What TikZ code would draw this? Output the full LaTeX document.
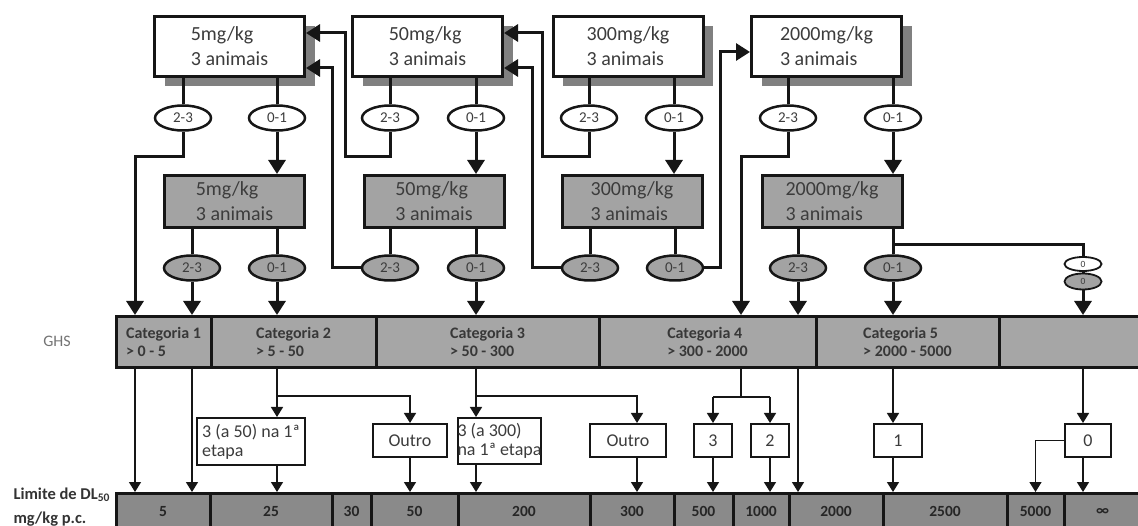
\documentclass[tikz,border=0pt]{standalone}
\usepackage{fontspec}
\setmainfont{Carlito}
\usetikzlibrary{arrows.meta,shadows,shapes.geometric}
\definecolor{boxgray}{RGB}{163,163,163}
\definecolor{bargray}{RGB}{166,166,166}
\definecolor{lowgray}{RGB}{138,138,138}
\definecolor{shadowgray}{RGB}{128,128,128}
\definecolor{txt}{RGB}{60,60,60}
\definecolor{linec}{RGB}{22,22,22}
\begin{document}
\begin{tikzpicture}[x=1pt,y=-1pt,
  basebox/.style={draw=linec, line width=3pt, inner sep=0pt, align=left, text=txt, font=\fontsize{20}{25}\selectfont},
  topbox/.style={basebox, fill=white, minimum width=150pt, minimum height=60pt,
    drop shadow={shadow xshift=10pt, shadow yshift=-10pt, fill=shadowgray, opacity=1}},
  graybox/.style={basebox, fill=boxgray, minimum width=140pt, minimum height=52pt},
  wellipse/.style={ellipse, draw=linec, line width=2.5pt, fill=white, minimum width=56pt, minimum height=25pt, inner sep=0pt, text=txt, font=\fontsize{15}{15}\selectfont},
  gellipse/.style={wellipse, fill=boxgray},
  smallell/.style={ellipse, draw=linec, line width=1.8pt, minimum width=37pt, minimum height=14pt, inner sep=0pt, text=txt, font=\fontsize{9.5}{9.5}\selectfont},
  cell/.style={draw=linec, line width=3pt, fill=bargray, minimum height=51pt, inner sep=0pt, align=left, text=black!78, font=\bfseries\fontsize{16}{18}\selectfont},
  lowcell/.style={draw=linec, line width=3pt, fill=lowgray, minimum height=36.5pt, inner sep=0pt, text=black!85, font=\bfseries\fontsize{15.5}{18}\selectfont},
  midbox/.style={draw=linec, line width=2pt, fill=white, minimum height=33pt, inner sep=0pt, align=left, text=txt, font=\fontsize{18}{19}\selectfont},
  thk/.style={line width=3pt, draw=linec},
  thka/.style={thk, -{Triangle[width=17pt,length=14pt]}},
  thn/.style={line width=1.5pt, draw=linec},
  thna/.style={thn, -{Triangle[width=12pt,length=10pt]}}]
\useasboundingbox (0,0) rectangle (1138,526);

% top row
\node[topbox] (t1) at (229.5,46.5) {5mg/kg\\3 animais};
\node[topbox] (t2) at (427.5,46.5) {50mg/kg\\3 animais};
\node[topbox] (t3) at (628,46.5) {300mg/kg\\3 animais};
\node[topbox] (t4) at (826.5,46.5) {2000mg/kg\\3 animais};

% top ellipses
\node[wellipse] (e1a) at (183,118) {2-3};
\node[wellipse] (e1b) at (277,118) {0-1};
\node[wellipse] (e2a) at (390,118) {2-3};
\node[wellipse] (e2b) at (476,118) {0-1};
\node[wellipse] (e3a) at (589,118) {2-3};
\node[wellipse] (e3b) at (674,118) {0-1};
\node[wellipse] (e4a) at (788,118) {2-3};
\node[wellipse] (e4b) at (893,118) {0-1};

% gray row
\node[graybox] (g1) at (234.5,201.5) {5mg/kg\\3 animais};
\node[graybox] (g2) at (434,201.5) {50mg/kg\\3 animais};
\node[graybox] (g3) at (632,201.5) {300mg/kg\\3 animais};
\node[graybox] (g4) at (832,201.5) {2000mg/kg\\3 animais};

% gray ellipses
\node[gellipse] (f1a) at (192,268) {2-3};
\node[gellipse] (f1b) at (277,268) {0-1};
\node[gellipse] (f2a) at (390,268) {2-3};
\node[gellipse] (f2b) at (476,268) {0-1};
\node[gellipse] (f3a) at (590,268) {2-3};
\node[gellipse] (f3b) at (675,268) {0-1};
\node[gellipse] (f4a) at (798,268) {2-3};
\node[gellipse] (f4b) at (893,268) {0-1};

\node[smallell, fill=white] (z1) at (1083,264) {0};
\node[smallell, fill=boxgray, minimum height=16pt] (z2) at (1083,281.5) {0};

% GHS bar
\node[cell, minimum width=95pt] (c1) at (163.5,342) {Categoria 1\\> 0 - 5};
\node[cell, minimum width=165pt] (c2) at (293.5,342) {Categoria 2\\> 5 - 50};
\node[cell, minimum width=223pt] (c3) at (487.5,342) {Categoria 3\\> 50 - 300};
\node[cell, minimum width=217pt] (c4) at (707.5,342) {Categoria 4\\> 300 - 2000};
\node[cell, minimum width=183pt] (c5) at (907.5,342) {Categoria 5\\> 2000 - 5000};
\node[cell, minimum width=142pt] (c6) at (1070,342) {};

\node[font=\fontsize{16}{16}\selectfont, text=black!55] (ghs) at (57,341) {GHS};

% middle boxes
\node[midbox, minimum width=108pt, minimum height=47pt] (m1) at (251,441.5) {3 (a 50) na 1ª\\etapa};
\node[midbox, minimum width=74pt] (m2) at (410,440.5) {Outro};
\node[midbox, minimum width=79pt, minimum height=46pt] (m3) at (499.5,441) {3 (a 300)\\na 1ª etapa};
\node[midbox, minimum width=76pt] (m4) at (628,440.5) {Outro};
\node[midbox, minimum width=38pt] (m5) at (713,440.5) {3};
\node[midbox, minimum width=38pt] (m6) at (770,440.5) {2};
\node[midbox, minimum width=48pt] (m7) at (898,440.5) {1};
\node[midbox, minimum width=46pt] (m8) at (1088,440.5) {0};

% bottom bar
\node[lowcell, minimum width=94pt] (b1) at (163,511.75) {5};
\node[lowcell, minimum width=122pt] (b2) at (271,511.75) {25};
\node[lowcell, minimum width=39pt] (b3) at (351.5,511.75) {30};
\node[lowcell, minimum width=87pt] (b4) at (414.5,511.75) {50};
\node[lowcell, minimum width=132pt] (b5) at (524,511.75) {200};
\node[lowcell, minimum width=84pt] (b6) at (632,511.75) {300};
\node[lowcell, minimum width=59pt] (b7) at (703.5,511.75) {500};
\node[lowcell, minimum width=56pt] (b8) at (761,511.75) {1000};
\node[lowcell, minimum width=94pt] (b9) at (836,511.75) {2000};
\node[lowcell, minimum width=124pt] (b10) at (945,511.75) {2500};
\node[lowcell, minimum width=57pt] (b11) at (1035.5,511.75) {5000};
\node[lowcell, minimum width=77pt] (b12) at (1102.5,511.75) {∞};

\node[anchor=west, align=left, font=\bfseries\fontsize{16.5}{24}\selectfont, text=black!80] (lim) at (10,507) {Limite de DL\textsubscript{50}\\mg/kg p.c.};

% routing coordinates
\coordinate (k1) at (135,157);
\coordinate (r2) at (345,157);
\coordinate (s2) at (332,268);
\coordinate (r3) at (542,157);
\coordinate (s3) at (532,268);
\coordinate (u3) at (720,268);
\coordinate (k4) at (741,157);
\coordinate (br) at (893,245);
\coordinate (j2) at (277,396);
\coordinate (j3) at (476,396);
\coordinate (q4) at (637,396);
\coordinate (j4) at (741,397);

% box to ellipse stubs
\foreach \b/\e in {t1/e1a,t1/e1b,t2/e2a,t2/e2b,t3/e3a,t3/e3b,t4/e4a,t4/e4b,g1/f1a,g1/f1b,g2/f2a,g2/f2b,g3/f3a,g3/f3b,g4/f4a,g4/f4b}
  \draw[thk] (\b.south -| \e) -- (\e.north);

% 0-1 of top row to gray boxes
\foreach \e/\g in {e1b/g1,e2b/g2,e3b/g3,e4b/g4}
  \draw[thka] (\e.south) -- (\e.south |- \g.north);

% thick routes
\draw[thka] (e1a.south) |- (k1) -- (k1 |- c1.north);
\draw[thka] (e2a.south) |- (r2) |- ([yshift=13.5pt]t1.east);
\draw[thka] (f2a.west) -- (s2) |- ([yshift=-21.5pt]t1.east);
\draw[thka] (e3a.south) |- (r3) |- ([yshift=13.5pt]t2.east);
\draw[thka] (f3a.west) -- (s3) |- ([yshift=-21.5pt]t2.east);
\draw[thka] (f3b.east) -- (u3) |- ([yshift=-5.5pt]t4.west);
\draw[thka] (e4a.south) |- (k4) -- (k4 |- c4.north);
\draw[thk] (br) -| (z1.north);
\draw[thk] (z1.south) -- (z2.north);
\draw[thka] (z2.south) -- (z2.south |- c6.north);

\foreach \e/\c in {f1a/c1,f1b/c2,f2b/c3,f4a/c4,f4b/c5}
  \draw[thka] (\e.south) -- (\e.south |- \c.north);

% thin connectors
\draw[thna] (k1 |- c1.south) -- (k1 |- b1.north);
\draw[thna] (f1a |- c1.south) -- (f1a |- b1.north);

\draw[thn] (j2 |- c2.south) -- (j2);
\draw[thna] (j2) -| (m2.north);
\draw[thna] (j2) -- (j2 |- m1.north);
\draw[thna] (j2 |- m1.south) -- (j2 |- b2.north);
\draw[thna] (m2.south) -- (m2.south |- b4.north);

\draw[thn] (j3 |- c3.south) -- (j3);
\draw[thna] (j3) -- (q4) -- (q4 |- m4.north);
\draw[thna] (j3) -- (j3 |- m3.north);
\draw[thna] (j3 |- m3.south) -- (j3 |- b5.north);
\draw[thna] (q4 |- m4.south) -- (q4 |- b6.north);

\draw[thn] (k4 |- c4.south) -- (j4);
\draw[thn] (m5.north |- j4) -- (m6.north |- j4);
\draw[thna] (m5.north |- j4) -- (m5.north);
\draw[thna] (m6.north |- j4) -- (m6.north);
\draw[thna] (m5.south) -- (m5.south |- b7.north);
\draw[thna] (m6.south) -- (m6.south |- b8.north);
\draw[thna] (f4a |- c4.south) -- (f4a |- b9.north);

\draw[thna] (f4b |- c5.south) -- (f4b |- m7.north);
\draw[thna] (f4b |- m7.south) -- (f4b |- b10.north);

\draw[thna] (z2 |- c6.south) -- (z2 |- m8.north);
\draw[thna] (z2 |- m8.south) -- (z2 |- b12.north);
\draw[thna] (m8.west) -| (b11.north);
\end{tikzpicture}
\end{document}
